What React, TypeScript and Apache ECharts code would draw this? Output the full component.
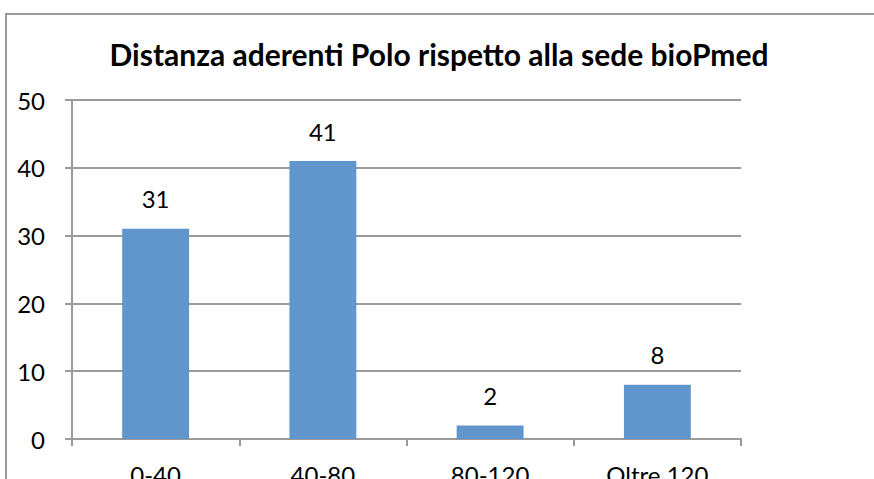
import React, { useEffect, useRef } from "react";
import * as echarts from "echarts";

const categories = ["0-40", "40-80", "80-120", "Oltre 120"];
const values = [31, 41, 2, 8];
const title = "Distanza aderenti Polo rispetto alla sede bioPmed";

export default function App() {
  const ref = useRef<HTMLDivElement>(null);
  useEffect(() => {
    if (!ref.current) return;
    const chart = echarts.init(ref.current, null, { renderer: "svg" });
    const font = "Lato, 'Open Sans', sans-serif";
    chart.setOption({
      animation: false,
      backgroundColor: "#ffffff",
      title: {
        text: title,
        left: 434,
        textAlign: "center",
        top: 34,
        textStyle: { fontFamily: font, fontWeight: "bold", fontSize: 30, color: "#000" },
      },
      graphic: [
        {
          type: "polyline",
          shape: { points: [[6, 479], [6, 14], [874, 14]] },
          style: { stroke: "#9a9a9a", lineWidth: 2, fill: "none" },
        },
      ],
      grid: {
        left: 72,
        right: 133,
        top: 100,
        bottom: 40,
        containLabel: false,
        outerBoundsMode: "none",
      },
      xAxis: {
        type: "category",
        data: categories,
        axisLine: { show: true, lineStyle: { color: "#9a9a9a", width: 2 } },
        axisTick: { show: true, length: 7, lineStyle: { color: "#9a9a9a", width: 2 } },
        axisLabel: { margin: 23, fontSize: 24, fontFamily: font, color: "#000" },
      },
      yAxis: {
        type: "value",
        min: 0,
        max: 50,
        interval: 10,
        axisLine: { show: true, lineStyle: { color: "#9a9a9a", width: 2 } },
        axisTick: { show: true, length: 7, lineStyle: { color: "#9a9a9a", width: 2 } },
        splitLine: { show: true, lineStyle: { color: "#9a9a9a", width: 2 } },
        axisLabel: { margin: 27, fontSize: 24, fontFamily: font, color: "#000" },
      },
      series: [
        {
          type: "bar",
          data: values,
          barWidth: "40%",
          itemStyle: { color: "#6096cb" },
          label: {
            show: true,
            position: "top",
            distance: 18,
            fontSize: 24,
            fontFamily: font,
            color: "#000",
          },
        },
      ],
    });
    return () => chart.dispose();
  }, []);
  return (
    <div
      ref={ref}
      style={{ position: "fixed", left: 0, top: 0, width: 874, height: 479 }}
    />
  );
}
